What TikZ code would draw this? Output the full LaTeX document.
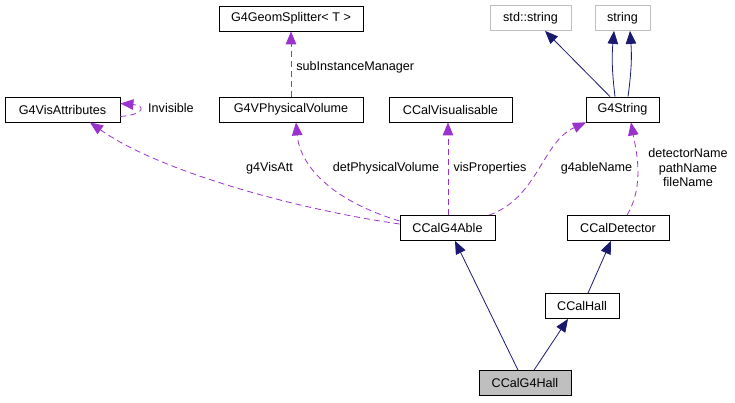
\documentclass[tikz,border=0pt]{standalone}
\usepackage{fontspec}
\setmainfont{Liberation Sans}
\usetikzlibrary{arrows.meta}
\definecolor{depcol}{HTML}{9A32CD}
\definecolor{inhcol}{HTML}{191970}
\definecolor{extcol}{HTML}{BFBFBF}
\begin{document}
\begin{tikzpicture}[x=1pt,y=-1pt,font=\fontsize{12.6}{14.5}\selectfont,
  cls/.style={draw,line width=0.8pt,minimum height=25pt,inner sep=0pt},
  ext/.style={cls,draw=extcol},
  dep/.style={draw=depcol,line width=0.8pt,dash pattern=on 6pt off 4pt,
    -{Triangle[length=13pt,width=10.5pt,fill=depcol]}},
  inh/.style={draw=inhcol,line width=0.8pt,
    -{Triangle[length=13pt,width=10.5pt,fill=inhcol]}},
  lbl/.style={inner sep=0pt}]
\useasboundingbox (0,0) rectangle (735,403);
\node[cls,minimum width=144pt] (splitter) at (291,18.5) {G4GeomSplitter< T >};
\node[ext,minimum width=81pt] (stdstring) at (530.5,18) {std::string};
\node[ext,minimum width=55pt] (string) at (622.5,18) {string};
\node[cls,minimum width=115pt] (visatt) at (62.5,109.5) {G4VisAttributes};
\node[cls,minimum width=144pt] (physvol) at (291,109.5) {G4VPhysicalVolume};
\node[cls,minimum width=123pt] (visual) at (450.5,109.5) {CCalVisualisable};
\node[cls,minimum width=73pt] (g4string) at (622.5,109.5) {G4String};
\node[cls,minimum width=95pt] (g4able) at (447.5,228) {CCalG4Able};
\node[cls,minimum width=102pt] (detector) at (618,228) {CCalDetector};
\node[cls,minimum width=74pt] (hall) at (582,306) {CCalHall};
\node[cls,minimum width=92pt,fill=extcol] (g4hall) at (525,383) {CCalG4Hall};
% inheritance
\draw[inh] (g4hall.north -| 518,0) -- (g4able.south -| 455,0);
\draw[inh] (g4hall.north -| 534,0) -- (hall.south -| 568,0);
\draw[inh] (hall.north -| 588,0) -- (detector.south -| 611,0);
\draw[inh] (g4string.north -| 610,0) -- (stdstring.south -| 545,0);
\draw[inh] (g4string.north -| 615,0) to[bend left=6] (string.south -| 614,0);
\draw[inh] (g4string.north -| 628,0) to[bend right=6] (string.south -| 630,0);
% usage
\draw[dep] (physvol) -- (splitter) node[lbl,anchor=west,pos=0.45,xshift=5pt] (subinst) {subInstanceManager};
\draw[dep] ([yshift=-7pt]visatt.east) .. controls +(25,-2) and +(25,2) .. ([yshift=6pt]visatt.east);
\node[lbl,anchor=west] (invis) at (148,108) {Invisible};
\draw[dep] (g4able.west |- 0,224) .. controls (300,210) and (160,172) .. (visatt.south -| 90,0);
\node[lbl] (visattlbl) at (269.5,168) {g4VisAtt};
\draw[dep] (g4able.west |- 0,221) .. controls (330,200) and (300,165) .. (physvol.south -| 296,0);
\node[lbl] (physlbl) at (386,168) {detPhysicalVolume};
\draw[dep] (g4able.north -| 448,0) -- (visual.south -| 448,0);
\node[lbl] (visproplbl) at (490,168) {visProperties};
\draw[dep] (g4able.north -| 489,0) .. controls (538,198) and (542,142) .. (g4string.south -| 586,0);
\node[lbl] (ablenamelbl) at (596.5,168) {g4ableName};
\draw[dep] (detector.north -| 627,0) .. controls (645,185) and (636,150) .. (g4string.south -| 631,0);
\node[lbl,align=center] (detnamelbl) at (688,167.5) {detectorName\\pathName\\fileName};
\end{tikzpicture}
\end{document}
